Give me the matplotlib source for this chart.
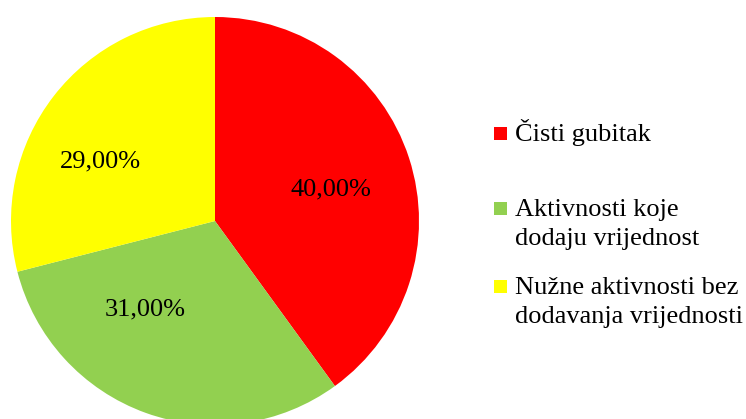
import matplotlib
matplotlib.use("Agg")
import matplotlib.pyplot as plt
from matplotlib.patches import Rectangle

categories = ["Čisti gubitak", "Aktivnosti koje\ndodaju vrijednost", "Nužne aktivnosti bez\ndodavanja vrijednosti"]
values = [40.0, 31.0, 29.0]
colors = ["#FF0000", "#92D050", "#FFFF00"]
# data-label positions in units of pie radius (Excel "best fit" placement)
label_x = [0.57, -0.34, -0.56]
label_y = [0.157, -0.436, 0.294]

plt.rcParams['font.family'] = ['Liberation Serif', 'DejaVu Serif']

W, H = 746, 419
fig = plt.figure(figsize=(W/100, H/100), dpi=100)
cx, cy, r = 215, 221, 204
ax = fig.add_axes([(cx - r)/W, (H - cy - r)/H, 2*r/W, 2*r/H])
wedges, texts, autotexts = ax.pie(values, colors=colors, startangle=90, counterclock=False,
                                  radius=1.0, autopct=lambda p: f"{p:.2f}%".replace('.', ','),
                                  pctdistance=0.6, textprops={'fontsize': 19, 'color': 'black'},
                                  wedgeprops={'linewidth': 0})
for t, lx, ly in zip(autotexts, label_x, label_y):
    t.set_position((lx, ly))
ax.set_xlim(-1, 1)
ax.set_ylim(-1, 1)
ax.set_aspect('equal')
ax.axis('off')

# legend
first_baselines = [141, 216, 294]
line_step = 29
sq = 13
for lab, col, b in zip(categories, colors, first_baselines):
    fig.patches.append(Rectangle((494/W, (H - b + 1)/H), sq/W, sq/H, transform=fig.transFigure,
                                 facecolor=col, edgecolor='none'))
    for i, line in enumerate(lab.split("\n")):
        fig.text(515/W, (H - b - i*line_step)/H, line, fontsize=19, va='baseline', ha='left',
                 transform=fig.transFigure)

fig.savefig("out.png", dpi=100)
